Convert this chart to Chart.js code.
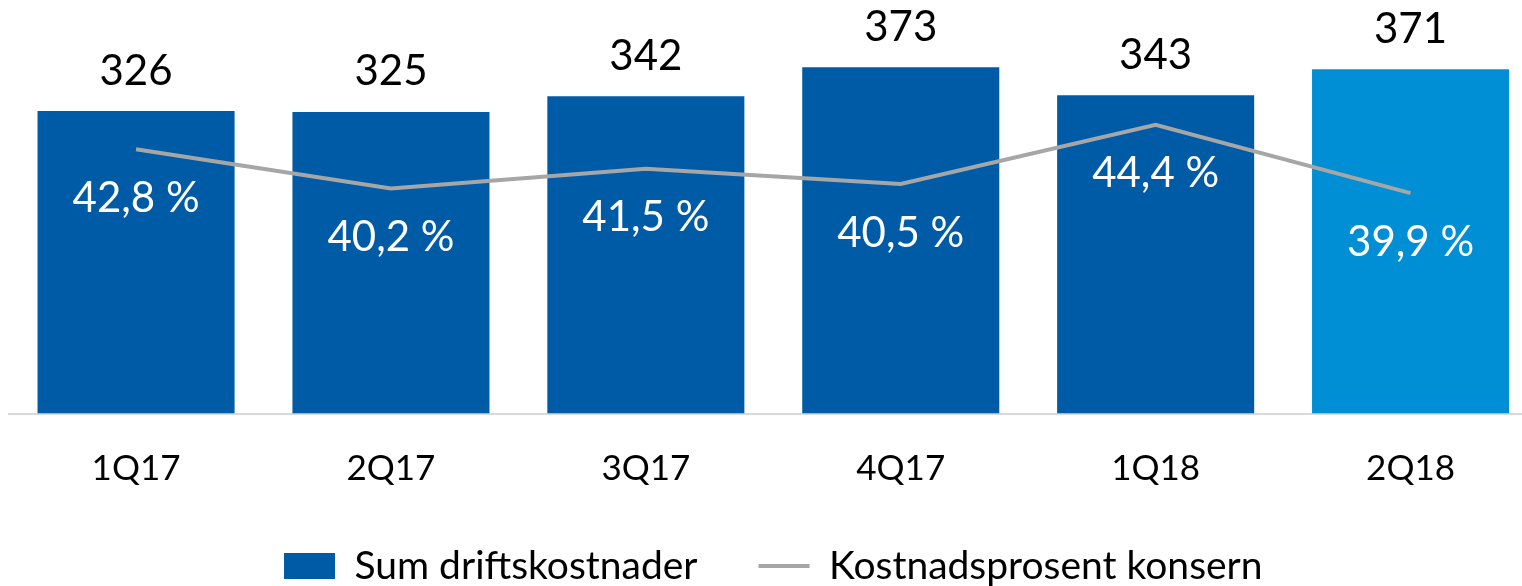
<!DOCTYPE html>
<html>
<head>
<meta charset="utf-8">
<script src="https://cdn.jsdelivr.net/npm/chart.js@4.4.1/dist/chart.umd.min.js"></script>
<style>
  html, body { margin: 0; padding: 0; background: #fff; overflow: hidden; }
  #wrap { position: relative; width: 1538px; height: 586px; }
</style>
</head>
<body>
<div id="wrap"><canvas id="chart"></canvas></div>
<script>
// Data
const quarters = ["1Q17", "2Q17", "3Q17", "4Q17", "1Q18", "2Q18"];
const costs = [326, 325, 342, 373, 343, 371];
const costPct = [42.8, 40.2, 41.5, 40.5, 44.4, 39.9];

const DARK_BLUE = "#005ba6";
const LIGHT_BLUE = "#008fd5";
const GREY = "#a6a6a6";
const FONT = "Lato, 'Open Sans', sans-serif";

// bar colors: last quarter highlighted
const barColors = costs.map((_, i) => i === costs.length - 1 ? LIGHT_BLUE : DARK_BLUE);

function formatPct(v) {
  return v.toFixed(1).replace(".", ",") + " %";
}

// Draws value labels above bars and percent labels under line points
const valueLabels = {
  id: "valueLabels",
  afterDatasetsDraw(chart) {
    const ctx = chart.ctx;
    ctx.save();
    ctx.textAlign = "center";
    ctx.textBaseline = "middle";
    ctx.font = "42px " + FONT;

    const barMeta = chart.getDatasetMeta(0);
    ctx.fillStyle = "#000";
    barMeta.data.forEach((bar, i) => {
      ctx.fillText(String(costs[i]), bar.x, bar.y - 40);
    });

    const lineMeta = chart.getDatasetMeta(1);
    ctx.fillStyle = "#fff";
    lineMeta.data.forEach((pt, i) => {
      ctx.fillText(formatPct(costPct[i]), pt.x, pt.y + 49);
    });
    ctx.restore();
  }
};

const ctx = document.getElementById("chart").getContext("2d");
new Chart(ctx, {
  type: "bar",
  data: {
    labels: quarters,
    datasets: [
      {
        label: "Sum driftskostnader",
        data: costs,
        backgroundColor: barColors,
        pointStyle: "rect",
        categoryPercentage: 1,
        barPercentage: 0.773,
        yAxisID: "y",
        order: 1
      },
      {
        type: "line",
        label: "Kostnadsprosent konsern",
        data: costPct,
        borderColor: GREY,
        backgroundColor: GREY,
        borderWidth: 4,
        pointRadius: 0,
        pointHoverRadius: 0,
        pointStyle: "line",
        tension: 0,
        yAxisID: "y2",
        order: 0
      }
    ]
  },
  options: {
    responsive: true,
    maintainAspectRatio: false,
    animation: false,
    events: [],
    layout: { padding: { left: 8.6, right: 0, top: 0, bottom: -9.5 } },
    scales: {
      x: {
        grid: { display: false, drawTicks: false },
        border: { display: true, color: "#d9d9d9", width: 2 },
        ticks: {
          color: "#000",
          font: { family: FONT, size: 35 },
          padding: 34
        },
        afterFit(scale) { scale.height = 72; }
      },
      y: {
        display: false,
        min: 0,
        max: 445.6
      },
      y2: {
        display: false,
        min: 25.36,
        max: 52.64
      }
    },
    plugins: {
      tooltip: { enabled: false },
      legend: {
        position: "bottom",
        labels: {
          usePointStyle: true,
          pointStyleWidth: 51,
          boxHeight: 26,
          color: "#000",
          font: { family: FONT, size: 39 },
          padding: 61,
          sort: (a, b) => a.datasetIndex - b.datasetIndex
        }
      }
    }
  },
  plugins: [valueLabels]
});
</script>
</body>
</html>
